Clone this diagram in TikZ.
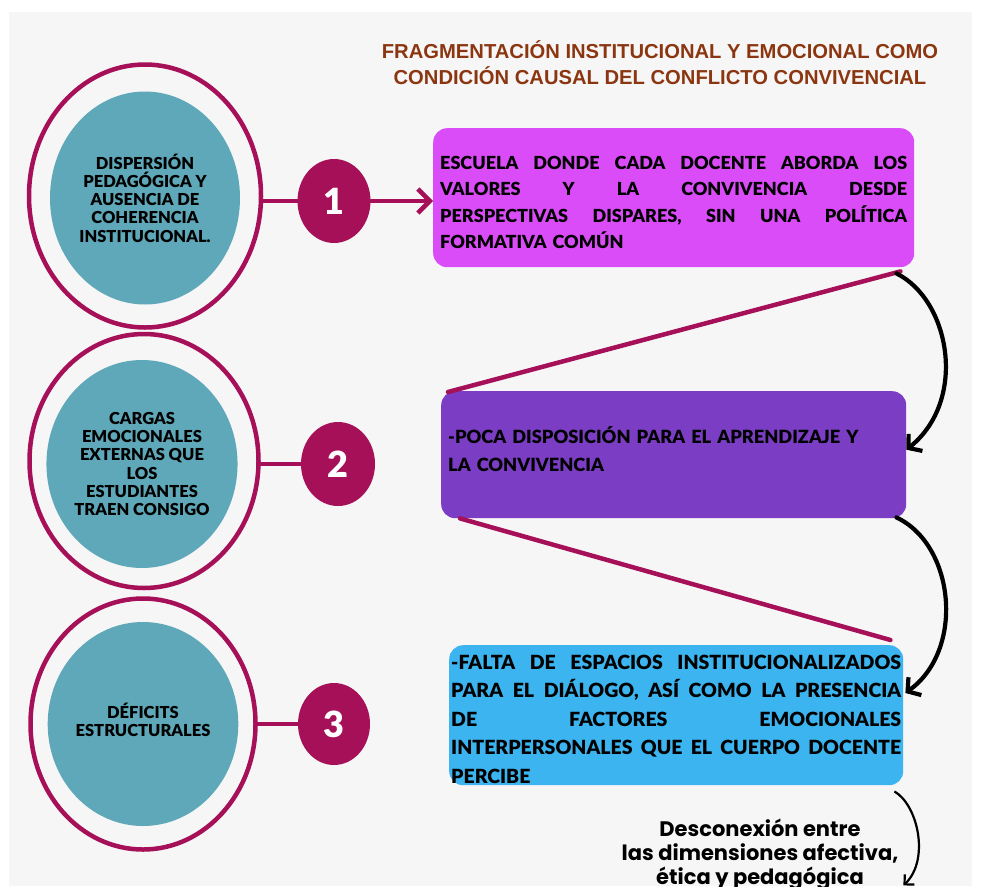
\documentclass[tikz,border=0pt]{standalone}
\usepackage{fontspec}
\setmainfont{Lato}
\newfontfamily\heavy{Lato Black}
\newfontfamily\titlefont{Liberation Sans}
\newfontfamily\roundfont{Poppins}
\usetikzlibrary{shapes.geometric,arrows.meta,calc}

\definecolor{panel}{RGB}{246,246,246}
\definecolor{plum}{RGB}{165,16,88}
\definecolor{tealfill}{RGB}{94,168,185}
\definecolor{orchid}{RGB}{217,76,247}
\definecolor{boxviolet}{RGB}{123,61,196}
\definecolor{sky}{RGB}{59,180,240}
\definecolor{rust}{RGB}{139,54,16}

% one fully justified line of a card: #1 = line width, #2 = words split by \hfill
\newcommand\jline[2]{\leavevmode\hbox to #1{#2}\\}

\tikzset{
  ring/.style={ellipse, draw=plum, line width=4.5pt, fill=panel, inner sep=0pt},
  core/.style={ellipse, fill=tealfill, inner sep=0pt, align=center,
    font=\heavy\fontsize{16.5}{18.3}\selectfont},
  badge/.style={ellipse, fill=plum, text=white, inner sep=0pt,
    font=\heavy\fontsize{36}{36}\selectfont},
  card/.style={rounded corners=14pt, inner ysep=0pt, anchor=north west, align=left},
  link/.style={draw=plum, line width=4.5pt, line cap=round},
  curvearrow/.style={draw=black, line width=4.2pt, line cap=round,
    -{Straight Barb[length=9pt,width=22pt]}},
}

\begin{document}
\begin{tikzpicture}[x=1pt,y=-1pt]
\useasboundingbox (0,0) rectangle (981,886);
\fill[panel] (9,12) rectangle (972,886);

% title
\node[font=\titlefont\bfseries\fontsize{20.2}{26}\selectfont, text=rust, align=center]
  (ttl) at (660,63) {FRAGMENTACIÓN INSTITUCIONAL Y EMOCIONAL COMO\\CONDICIÓN CAUSAL DEL CONFLICTO CONVIVENCIAL};

% left column: ringed causes
\node[ring, minimum width=232pt, minimum height=263pt] (c1) at (145,196) {};
\node[core, minimum width=190pt, minimum height=213pt] (i1) at (145,198)
  {DISPERSIÓN\\PEDAGÓGICA Y\\AUSENCIA DE\\COHERENCIA\\INSTITUCIONAL.};

\node[ring, minimum width=229pt, minimum height=254pt] (c2) at (144,461) {};
\node[core, minimum width=185pt, minimum height=208pt] (i2) at (142,464)
  {CARGAS\\EMOCIONALES\\EXTERNAS QUE\\LOS\\ESTUDIANTES\\TRAEN CONSIGO};

\node[ring, minimum width=225pt, minimum height=251pt] (c3) at (143,724) {};
\node[core, minimum width=180pt, minimum height=204pt] (i3) at (143,724)
  {DÉFICITS\\ESTRUCTURALES\\[-10pt]};

% numbered badges
\node[badge, minimum width=73pt, minimum height=84pt] (n1) at (334,201) {1};
\node[badge, minimum width=74pt, minimum height=84pt] (n2) at (338,464) {2};
\node[badge, minimum width=72pt, minimum height=82pt] (n3) at (334,724) {3};

% cards
\node[card, fill=orchid, minimum width=481pt, minimum height=139pt, inner xsep=7pt,
  text width=467pt, font=\heavy\fontsize{18}{26.5}\selectfont] (b1) at (433,128)
  {\jline{467pt}{\rule{0pt}{23pt}ESCUELA \hfill DONDE \hfill CADA \hfill DOCENTE \hfill ABORDA \hfill LOS}%
   \jline{467pt}{VALORES \hfill Y \hfill LA \hfill CONVIVENCIA \hfill DESDE}%
   \jline{467pt}{PERSPECTIVAS \hfill DISPARES, \hfill SIN \hfill UNA \hfill POLÍTICA}%
   FORMATIVA COMÚN};

\node[card, fill=boxviolet, minimum width=465pt, minimum height=127pt, inner xsep=7pt,
  text width=451pt, font=\heavy\fontsize{18.2}{28}\selectfont] (b2) at (441,391)
  {-POCA DISPOSICIÓN PARA EL APRENDIZAJE Y\\LA CONVIVENCIA\rule[-12pt]{0pt}{12pt}};

\node[card, fill=sky, minimum width=454pt, minimum height=140pt, inner xsep=2pt,
  text width=450pt, font=\heavy\fontsize{19.5}{28.5}\selectfont] (b3) at (449,645)
  {\jline{450pt}{\rule{0pt}{22pt}-FALTA \hfill DE \hfill ESPACIOS \hfill INSTITUCIONALIZADOS}%
   \jline{450pt}{PARA \hfill EL \hfill DIÁLOGO, \hfill ASÍ \hfill COMO \hfill LA \hfill PRESENCIA}%
   \jline{450pt}{DE \hfill FACTORES \hfill EMOCIONALES}%
   \jline{450pt}{INTERPERSONALES \hfill QUE \hfill EL \hfill CUERPO \hfill DOCENTE}%
   PERCIBE};

% closing statement
\node[font=\roundfont\bfseries\fontsize{21}{24}\selectfont, align=center]
  (dz) at (760,855) {Desconexión entre\\las dimensiones afectiva,\\ética y pedagógica};

% ring-to-badge links
\draw[link] (n1.west) -- (n1.west -| c1.east);
\draw[link] (n2.west) -- (n2.west -| c2.east);
\draw[link] (n3.west) -- (n3.west -| c3.east);
\draw[link, -{Straight Barb[length=12pt,width=24pt]}] (n1.east) -- (n1.east -| b1.west);

% diagonal ties between cards
\coordinate (k1) at ($(b1.south east)+(-14,4)$);
\coordinate (k2) at ($(b2.north west)+(7,1)$);
\coordinate (k3) at ($(b2.south west)+(19,0)$);
\coordinate (k4) at ($(b3.north east)+(-13,-5)$);
\draw[link] (k1) -- (k2);
\draw[link] (k3) -- (k4);

% curved black arrows down the right side
\coordinate (tail) at ($(b3.south east)+(0,100)$);
\draw[curvearrow] ($(b1.south east)+(-18,6)$) .. controls (950,300) and (968,400) .. ($(b2.east)+(0,-5)$);
\draw[curvearrow] ($(b2.south east)+(-10,-1)$) .. controls (955,545) and (965,650) .. ($(b3.north east)+(2,48)$);
\draw[draw=black, line width=2.2pt, -{Straight Barb[length=7pt,width=14pt]}]
  ($(b3.south east)+(-9,6)$) .. controls (918,805) and (930,860) .. (tail);
\end{tikzpicture}
\end{document}
